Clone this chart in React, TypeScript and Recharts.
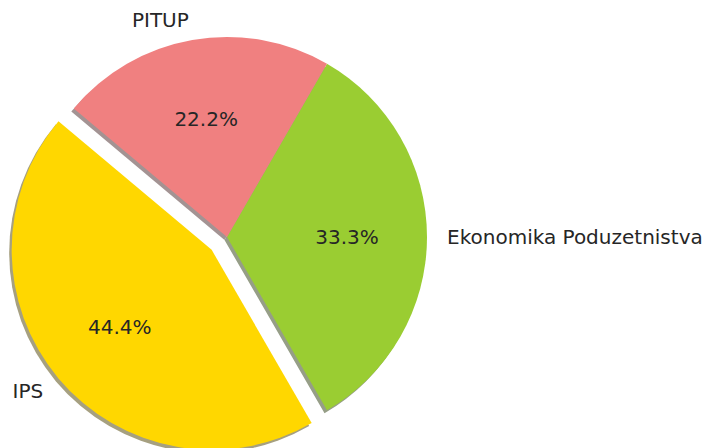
import React from 'react';
import { PieChart, Pie, Cell } from 'recharts';

const categories = ['IPS', 'Ekonomika Poduzetnistva', 'PITUP'];
const shares = [44.4, 33.3, 22.2];
const colors = ['#FFD700', '#9ACD32', '#F08080'];
const shadowColors = ['#a6a080', '#969e87', '#a39393'];
const explodedIndex = 0;

const data = categories.map((name, i) => ({ name, value: shares[i] }));

const W = 715;
const H = 448;
const R = 200;
const CX = 227;
const CY = 237;
const START = 140;
const EXPLODE = 0.1;
const SHADOW_DX = -2.5;
const SHADOW_DY = 3;
const FONT = '"DejaVu Sans", sans-serif';
const FS = 20;

// mid angle of the exploded slice, from the data
const total = shares.reduce((a, b) => a + b, 0);
const before = shares.slice(0, explodedIndex).reduce((a, b) => a + b, 0);
const midDeg = START + ((before + shares[explodedIndex] / 2) / total) * 360;
const EX = CX + EXPLODE * R * Math.cos((midDeg * Math.PI) / 180);
const EY = CY - EXPLODE * R * Math.sin((midDeg * Math.PI) / 180);

const RAD = Math.PI / 180;

const makeLabel = (visibleIdx: (i: number) => boolean) => (props: any) => {
  const { cx, cy, midAngle, outerRadius, index, name, value } = props;
  if (!visibleIdx(index)) return <g />;
  const c = Math.cos(-midAngle * RAD);
  const s = Math.sin(-midAngle * RAD);
  const lx = cx + 1.1 * outerRadius * c;
  const ly = cy + 1.1 * outerRadius * s;
  const px = cx + 0.6 * outerRadius * c;
  const py = cy + 0.6 * outerRadius * s;
  return (
    <g>
      <text x={lx} y={ly} textAnchor={c > 0 ? 'start' : 'end'} dominantBaseline="central" fontFamily={FONT} fontSize={FS} fill="#262626">
        {name}
      </text>
      <text x={px} y={py} textAnchor="middle" dominantBaseline="central" fontFamily={FONT} fontSize={FS} fill="#262626">
        {`${Number(value).toFixed(1)}%`}
      </text>
    </g>
  );
};

export default function App() {
  return (
    <div style={{ position: 'absolute', left: 0, top: 0, background: '#fff' }}>
      <PieChart width={W} height={H} margin={{ top: 0, right: 0, bottom: 0, left: 0 }}>
        {/* shadows */}
        <Pie data={data} dataKey="value" nameKey="name" cx={CX + SHADOW_DX} cy={CY + SHADOW_DY} outerRadius={R}
          startAngle={START} endAngle={START + 360} isAnimationActive={false} stroke="none" label={false} labelLine={false}>
          {data.map((d, i) => (
            <Cell key={d.name} fill={i === explodedIndex ? 'transparent' : shadowColors[i]} stroke="none" />
          ))}
        </Pie>
        <Pie data={data} dataKey="value" nameKey="name" cx={EX + SHADOW_DX} cy={EY + SHADOW_DY} outerRadius={R}
          startAngle={START} endAngle={START + 360} isAnimationActive={false} stroke="none" label={false} labelLine={false}>
          {data.map((d, i) => (
            <Cell key={d.name} fill={i === explodedIndex ? shadowColors[i] : 'transparent'} stroke="none" />
          ))}
        </Pie>
        {/* main wedges */}
        <Pie data={data} dataKey="value" nameKey="name" cx={CX} cy={CY} outerRadius={R}
          startAngle={START} endAngle={START + 360} isAnimationActive={false} stroke="none"
          label={makeLabel((i) => i !== explodedIndex)} labelLine={false}>
          {data.map((d, i) => (
            <Cell key={d.name} fill={i === explodedIndex ? 'transparent' : colors[i]} stroke="none" />
          ))}
        </Pie>
        <Pie data={data} dataKey="value" nameKey="name" cx={EX} cy={EY} outerRadius={R}
          startAngle={START} endAngle={START + 360} isAnimationActive={false} stroke="none"
          label={makeLabel((i) => i === explodedIndex)} labelLine={false}>
          {data.map((d, i) => (
            <Cell key={d.name} fill={i === explodedIndex ? colors[i] : 'transparent'} stroke="none" />
          ))}
        </Pie>
      </PieChart>
    </div>
  );
}
